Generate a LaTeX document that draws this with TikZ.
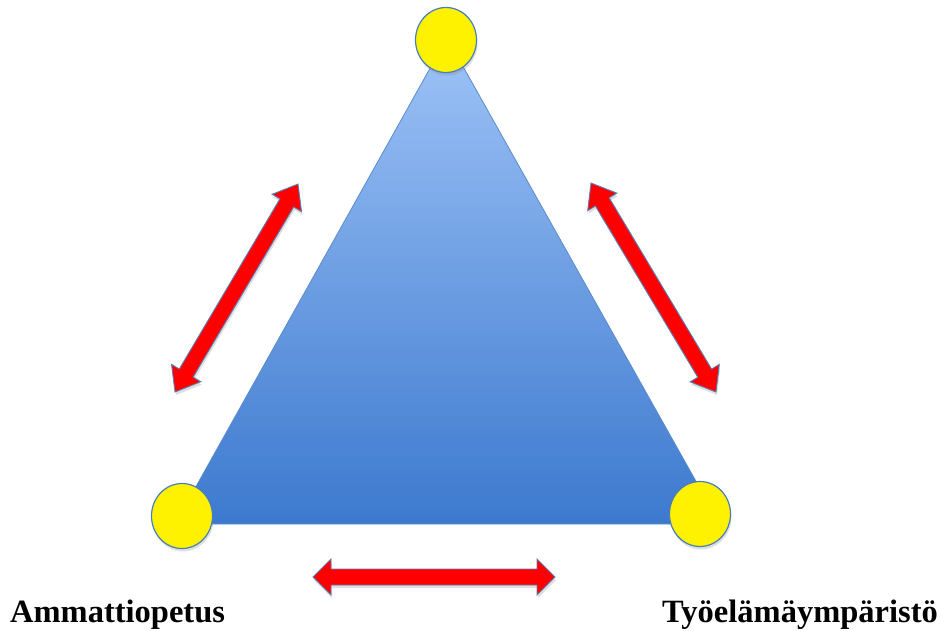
\documentclass[tikz,border=0pt]{standalone}
\usepackage{fontspec}
\setmainfont{Liberation Serif}
\usetikzlibrary{calc,shadows,shapes.geometric}
\definecolor{triTop}{HTML}{9EC3F7}
\definecolor{triBot}{HTML}{3C79CE}
\definecolor{triEdge}{HTML}{5B8BC9}
\definecolor{rimBlue}{HTML}{4A7EBB}
\definecolor{arrRed}{HTML}{FF0000}
\definecolor{arrEdge}{HTML}{5A7FB5}
% #1 start, #2 end, #3 head length, #4 head half width, #5 shaft half width
\newcommand{\dblarr}[5]{%
  \filldraw[redarrow]
    (#1)
    -- ($(#1)!#3!(#2)!#4!90:(#2)$)
    -- ($(#1)!#3!(#2)!#5!90:(#2)$)
    -- ($(#2)!#3!(#1)!#5!-90:(#1)$)
    -- ($(#2)!#3!(#1)!#4!-90:(#1)$)
    -- (#2)
    -- ($(#2)!#3!(#1)!#4!90:(#1)$)
    -- ($(#2)!#3!(#1)!#5!90:(#1)$)
    -- ($(#1)!#3!(#2)!#5!-90:(#2)$)
    -- ($(#1)!#3!(#2)!#4!-90:(#2)$)
    -- cycle;}
\begin{document}
\begin{tikzpicture}[x=1pt,y=-1pt,
  vertexdot/.style={ellipse, fill=yellow, draw=rimBlue, line width=1.2pt,
    minimum width=61pt, minimum height=65pt, inner sep=0pt,
    drop shadow={shadow xshift=1pt, shadow yshift=-3pt, opacity=0.25}},
  redarrow/.style={fill=arrRed, draw=arrEdge, line width=0.9pt, line join=miter,
    drop shadow={shadow xshift=1pt, shadow yshift=-3pt, opacity=0.25}},
  label/.style={font=\fontsize{32.5}{36}\selectfont\bfseries, inner sep=0pt}]
\useasboundingbox (0,0) rectangle (942,630);
% triangle
\coordinate (tA) at (447,38);
\coordinate (tB) at (175,524);
\coordinate (tC) at (720,524);
\shade[top color=triTop, bottom color=triBot] (tA) -- (tB) -- (tC) -- cycle;
\draw[triEdge, line width=0.8pt, line join=round] (tA) -- (tB) -- (tC) -- cycle;
% vertex dots
\node[vertexdot] (ctop) at (446,40) {};
\node[vertexdot] (cleft) at (182,516) {};
\node[vertexdot] (cright) at (700,514) {};
% arrow end points
\coordinate (la1) at (298,184);
\coordinate (la2) at (175,392);
\coordinate (ra1) at (591,183);
\coordinate (ra2) at (716,392);
\coordinate (ba1) at (313,577);
\coordinate (ba2) at (555,577);
\dblarr{la1}{la2}{22pt}{17pt}{8pt}
\dblarr{ra1}{ra2}{22pt}{17pt}{8pt}
\dblarr{ba1}{ba2}{18pt}{18pt}{8pt}
% labels
\node[label, anchor=base west] (lamm) at (10,622) {Ammattiopetus};
\node[label, anchor=base east] (ltyo) at (938,622) {Työelämäympäristö};
\end{tikzpicture}
\end{document}
